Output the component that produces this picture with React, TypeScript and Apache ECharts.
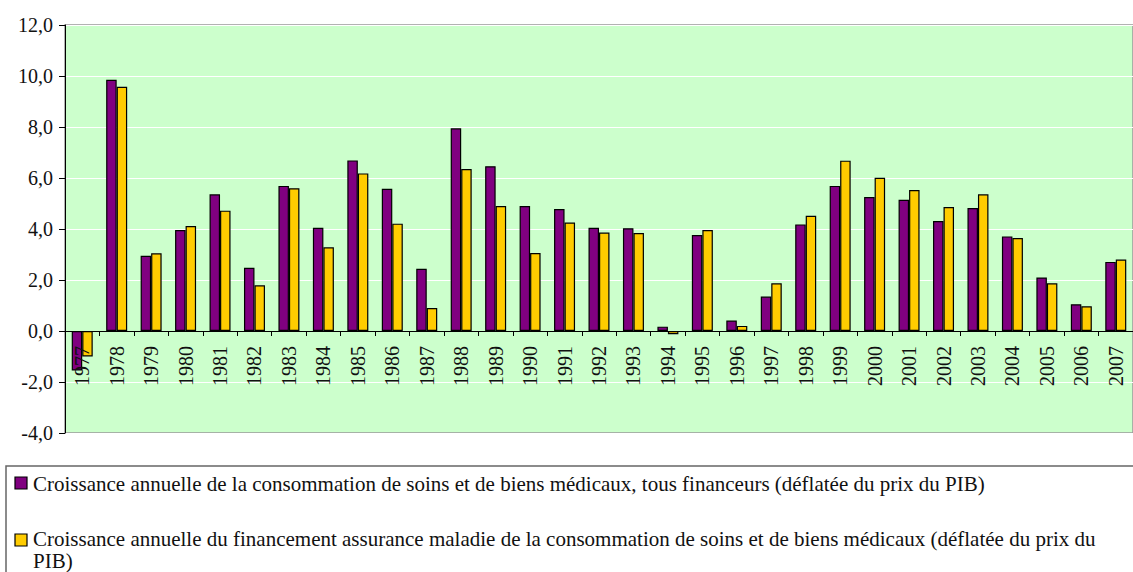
import React, { useEffect, useRef } from "react";
import * as echarts from "echarts";

const years = ["1977","1978","1979","1980","1981","1982","1983","1984","1985","1986","1987","1988","1989","1990","1991","1992","1993","1994","1995","1996","1997","1998","1999","2000","2001","2002","2003","2004","2005","2006","2007"];
const consommation = [-1.55, 9.85, 2.95, 3.96, 5.36, 2.48, 5.69, 4.05, 6.69, 5.58, 2.44, 7.95, 6.46, 4.9, 4.78, 4.05, 4.03, 0.17, 3.76, 0.41, 1.35, 4.18, 5.69, 5.25, 5.15, 4.31, 4.82, 3.71, 2.1, 1.05, 2.71];
const assuranceMaladie = [-1.0, 9.58, 3.05, 4.12, 4.72, 1.79, 5.6, 3.28, 6.18, 4.21, 0.9, 6.35, 4.9, 3.06, 4.25, 3.86, 3.84, -0.13, 3.96, 0.2, 1.87, 4.52, 6.68, 6.01, 5.53, 4.86, 5.36, 3.65, 1.87, 0.97, 2.8];
const name1 = "Croissance annuelle de la consommation de soins et de biens médicaux, tous financeurs (déflatée du prix du PIB)";
const name2 = "Croissance annuelle du financement assurance maladie de la consommation de soins et de biens médicaux (déflatée du prix du PIB)";
const name2Lines = ["Croissance annuelle du financement assurance maladie de la consommation de soins et de biens médicaux (déflatée du prix du", "PIB)"];

const PURPLE = "#800080";
const YELLOW = "#FFCC00";
const FONT = "Liberation Serif, serif";
const LEGEND_SIZE = 21;

export default function App() {
  const ref = useRef<HTMLDivElement>(null);
  useEffect(() => {
    document.body.style.margin = "0";
    const chart = echarts.init(ref.current!, null, { renderer: "svg" });
    chart.setOption({
      animation: false,
      grid: {
        left: 65, top: 25, width: 1073, height: 408,
        show: true, backgroundColor: "#CCFFCC", borderColor: "#999", borderWidth: 1.5,
      },
      xAxis: {
        type: "category",
        data: years,
        offset: -102,
        z: 5,
        axisLine: { onZero: false, lineStyle: { color: "#000", width: 1 } },
        axisTick: { show: true, length: 5, lineStyle: { color: "#000" } },
        axisLabel: { rotate: 90, margin: 15, fontSize: 20, color: "#111", fontFamily: FONT },
      },
      yAxis: {
        type: "value",
        min: -4, max: 12, interval: 2,
        axisLine: { show: true, lineStyle: { color: "#000", width: 1 } },
        axisTick: { show: true, length: 6, lineStyle: { color: "#000" } },
        splitLine: { show: true, lineStyle: { color: "#fff", width: 1 } },
        axisLabel: {
          fontSize: 20, color: "#111", margin: 12, fontFamily: FONT,
          formatter: (v: number) => v.toFixed(1).replace(".", ","),
        },
      },
      series: [
        {
          name: name1, type: "bar", data: consommation, barWidth: 10.5, barGap: "0%", z: 1,
          itemStyle: { color: PURPLE, borderColor: "#000", borderWidth: 1.2 },
        },
        {
          name: name2, type: "bar", data: assuranceMaladie, barWidth: 10.5, barGap: "0%", z: 1,
          itemStyle: { color: YELLOW, borderColor: "#000", borderWidth: 1.2 },
        },
      ],
      graphic: [
        { type: "rect", shape: { x: 6, y: 466, width: 1150, height: 130 }, style: { fill: "#fff", stroke: "#666", lineWidth: 1.5 } },
        { type: "rect", shape: { x: 15, y: 477, width: 12, height: 12 }, style: { fill: PURPLE, stroke: "#000", lineWidth: 1.2 } },
        { type: "text", x: 33, y: 484, style: { text: name1, fontSize: LEGEND_SIZE, fontFamily: FONT, fill: "#111", verticalAlign: "middle" } },
        { type: "rect", shape: { x: 15, y: 534, width: 12, height: 12 }, style: { fill: YELLOW, stroke: "#000", lineWidth: 1.2 } },
        { type: "text", x: 33, y: 539, style: { text: name2Lines[0], fontSize: LEGEND_SIZE, fontFamily: FONT, fill: "#111", verticalAlign: "middle" } },
        { type: "text", x: 33, y: 561, style: { text: name2Lines[1], fontSize: LEGEND_SIZE, fontFamily: FONT, fill: "#111", verticalAlign: "middle" } },
      ],
    });
    return () => chart.dispose();
  }, []);
  return <div ref={ref} style={{ width: 1133, height: 572 }} />;
}
